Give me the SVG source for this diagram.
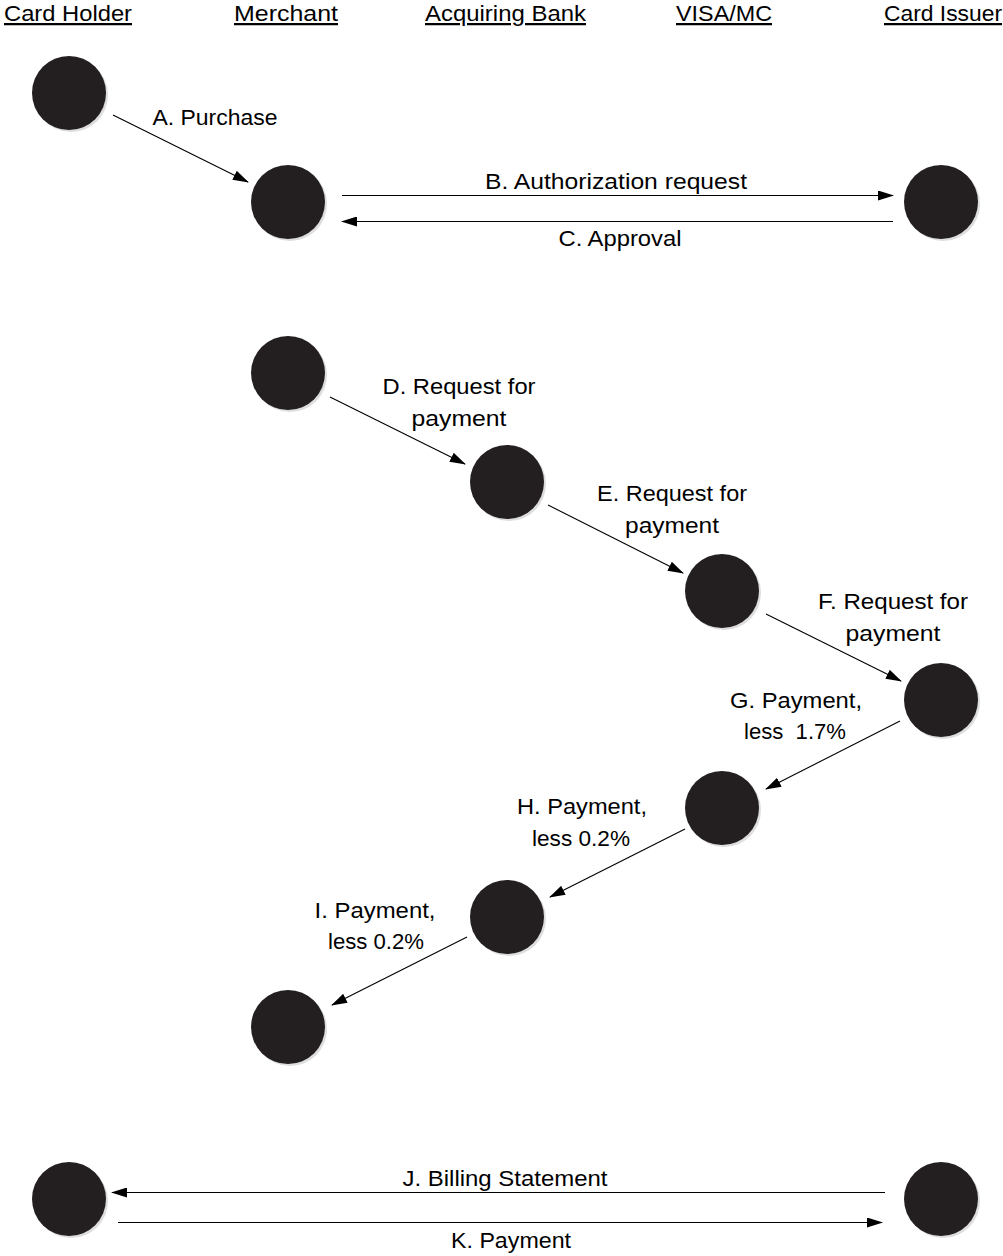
<svg xmlns="http://www.w3.org/2000/svg" width="1003" height="1256" viewBox="0 0 1003 1256">
<style>
text{font-family:"Liberation Sans","Open Sans",sans-serif;font-size:22.5px;fill:#000}
.h{text-decoration:underline}
.lbl{text-anchor:middle}
.node{fill:#231f20;stroke:none}
.sh{fill:#c8c8c8;opacity:0.6}
.conn line{stroke:#000;stroke-width:1.1;marker-end:url(#ah)}
</style>
<defs>
<marker id="ah" markerWidth="16" markerHeight="10" refX="15" refY="5" orient="auto" markerUnits="userSpaceOnUse">
<path d="M0,0 L16,5 L0,10 Z" fill="#000"/>
</marker>
</defs>
<g id="headers">
<text class="h" x="4" y="21" textLength="128" lengthAdjust="spacingAndGlyphs">Card Holder</text>
<text class="h" x="234" y="21" textLength="104" lengthAdjust="spacingAndGlyphs">Merchant</text>
<text class="h" x="425" y="21" textLength="161" lengthAdjust="spacingAndGlyphs">Acquiring Bank</text>
<text class="h" x="676" y="21" textLength="96" lengthAdjust="spacingAndGlyphs">VISA/MC</text>
<text class="h" x="884" y="21" textLength="118" lengthAdjust="spacingAndGlyphs">Card Issuer</text>
</g>
<g id="n1"><circle class="sh" cx="71" cy="95" r="37"/><circle class="node" cx="69" cy="93" r="37"/></g>
<g id="n2"><circle class="sh" cx="290" cy="204" r="37"/><circle class="node" cx="288" cy="202" r="37"/></g>
<g id="n3"><circle class="sh" cx="943" cy="204" r="37"/><circle class="node" cx="941" cy="202" r="37"/></g>
<g id="n4"><circle class="sh" cx="290" cy="375" r="37"/><circle class="node" cx="288" cy="373" r="37"/></g>
<g id="n5"><circle class="sh" cx="509" cy="484" r="37"/><circle class="node" cx="507" cy="482" r="37"/></g>
<g id="n6"><circle class="sh" cx="724" cy="593" r="37"/><circle class="node" cx="722" cy="591" r="37"/></g>
<g id="n7"><circle class="sh" cx="943" cy="702" r="37"/><circle class="node" cx="941" cy="700" r="37"/></g>
<g id="n8"><circle class="sh" cx="724" cy="810" r="37"/><circle class="node" cx="722" cy="808" r="37"/></g>
<g id="n9"><circle class="sh" cx="509" cy="919" r="37"/><circle class="node" cx="507" cy="917" r="37"/></g>
<g id="n10"><circle class="sh" cx="290" cy="1029" r="37"/><circle class="node" cx="288" cy="1027" r="37"/></g>
<g id="n11"><circle class="sh" cx="71" cy="1201" r="37"/><circle class="node" cx="69" cy="1199" r="37"/></g>
<g id="n12"><circle class="sh" cx="943" cy="1201" r="37"/><circle class="node" cx="941" cy="1199" r="37"/></g>
<g id="connectors" class="conn">
<line x1="113" y1="115" x2="248" y2="182"/>
<line x1="342" y1="195.5" x2="893" y2="195.5"/>
<line x1="893" y1="221.5" x2="342" y2="221.5"/>
<line x1="330" y1="397" x2="465" y2="464"/>
<line x1="548" y1="505" x2="683" y2="573"/>
<line x1="766" y1="614" x2="901" y2="681"/>
<line x1="900" y1="721" x2="766" y2="789"/>
<line x1="685" y1="829" x2="550" y2="897"/>
<line x1="467" y1="937" x2="332" y2="1005"/>
<line x1="885" y1="1192.5" x2="112" y2="1192.5"/>
<line x1="118" y1="1222.5" x2="882" y2="1222.5"/>
</g>
<g id="labels">
<text class="lbl" x="215" y="125" textLength="125" lengthAdjust="spacingAndGlyphs">A. Purchase</text>
<text class="lbl" x="616" y="189" textLength="262" lengthAdjust="spacingAndGlyphs">B. Authorization request</text>
<text class="lbl" x="620" y="246" textLength="123" lengthAdjust="spacingAndGlyphs">C. Approval</text>
<text class="lbl" x="459" y="394" textLength="153" lengthAdjust="spacingAndGlyphs">D. Request for</text>
<text class="lbl" x="459" y="426" textLength="95" lengthAdjust="spacingAndGlyphs">payment</text>
<text class="lbl" x="672" y="501" textLength="150" lengthAdjust="spacingAndGlyphs">E. Request for</text>
<text class="lbl" x="672" y="533" textLength="94" lengthAdjust="spacingAndGlyphs">payment</text>
<text class="lbl" x="893" y="609" textLength="150" lengthAdjust="spacingAndGlyphs">F. Request for</text>
<text class="lbl" x="893" y="641" textLength="95" lengthAdjust="spacingAndGlyphs">payment</text>
<text class="lbl" x="796" y="708" textLength="132" lengthAdjust="spacingAndGlyphs">G. Payment,</text>
<text class="lbl" x="795" y="739" textLength="102" lengthAdjust="spacingAndGlyphs" xml:space="preserve">less  1.7%</text>
<text class="lbl" x="582" y="814" textLength="130" lengthAdjust="spacingAndGlyphs">H. Payment,</text>
<text class="lbl" x="581" y="846" textLength="98" lengthAdjust="spacingAndGlyphs">less 0.2%</text>
<text class="lbl" x="375" y="918" textLength="121" lengthAdjust="spacingAndGlyphs">I. Payment,</text>
<text class="lbl" x="376" y="949" textLength="96" lengthAdjust="spacingAndGlyphs">less 0.2%</text>
<text class="lbl" x="505" y="1186" textLength="205" lengthAdjust="spacingAndGlyphs">J. Billing Statement</text>
<text class="lbl" x="511" y="1248" textLength="120" lengthAdjust="spacingAndGlyphs">K. Payment</text>
</g>
</svg>
